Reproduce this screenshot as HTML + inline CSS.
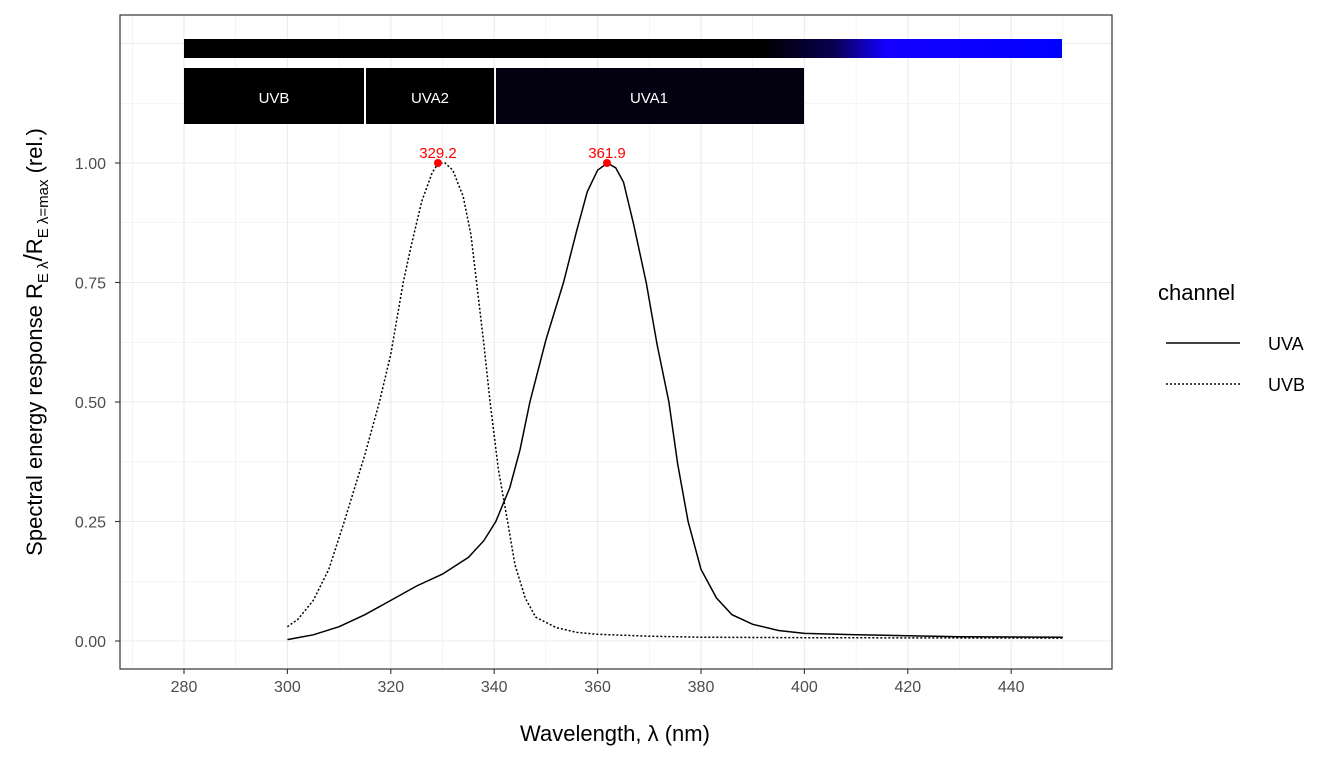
<!DOCTYPE html>
<html><head><meta charset="utf-8"><style>
html,body{margin:0;padding:0;background:#fff;}
svg text{font-family:"Liberation Sans",sans-serif;}
</style></head><body>
<svg id="s" width="1344" height="768" viewBox="0 0 1344 768" xmlns="http://www.w3.org/2000/svg">
<defs>
<linearGradient id="g" x1="184" x2="1062" y1="0" y2="0" gradientUnits="userSpaceOnUse">
<stop offset="0" stop-color="#000"/>
<stop offset="0.66" stop-color="#000"/>
<stop offset="0.74" stop-color="#0a0050"/>
<stop offset="0.8" stop-color="#1400ff"/>
<stop offset="1" stop-color="#0000ff"/>
</linearGradient>
</defs>
<rect x="120" y="15" width="992" height="654" fill="#fff"/>
<g id="grid"></g>
<rect x="184" y="39" width="878" height="19" fill="url(#g)"/>
<rect x="184" y="68" width="180" height="56" fill="#000"/>
<rect x="366" y="68" width="128" height="56" fill="#000"/>
<rect x="496" y="68" width="308" height="56" fill="#03000f"/>
<text x="274" y="103" fill="#fff" font-size="15" text-anchor="middle">UVB</text>
<text x="430" y="103" fill="#fff" font-size="15" text-anchor="middle">UVA2</text>
<text x="649" y="103" fill="#fff" font-size="15" text-anchor="middle">UVA1</text>
<path id="uvb" fill="none" stroke="#000" stroke-width="1.5" stroke-dasharray="2,2"/>
<path id="uva" fill="none" stroke="#000" stroke-width="1.5"/>
<circle cx="438" cy="163" r="4" fill="red"/>
<circle cx="607" cy="163" r="4" fill="red"/>
<text x="438" y="158" fill="red" font-size="15" text-anchor="middle">329.2</text>
<text x="607" y="158" fill="red" font-size="15" text-anchor="middle">361.9</text>
<rect x="120" y="15" width="992" height="654" fill="none" stroke="#333" stroke-width="1.2"/>
<g id="ticks" font-size="16" fill="#4d4d4d"></g>
<text x="615" y="741" font-size="22" text-anchor="middle" fill="#000">Wavelength, λ (nm)</text>
<text transform="translate(42,342) rotate(-90)" font-size="22" text-anchor="middle" fill="#000">Spectral  energy  response  R<tspan font-size="15" dy="6">E λ</tspan><tspan dy="-6" font-size="26">/</tspan>R<tspan font-size="15" dy="6">E λ=max</tspan><tspan dy="-6">  (rel.)</tspan></text>
<text x="1158" y="300" font-size="22" fill="#000">channel</text>
<line x1="1166" x2="1240" y1="343" y2="343" stroke="#000" stroke-width="1.5"/>
<line x1="1166" x2="1240" y1="384" y2="384" stroke="#000" stroke-width="1.5" stroke-dasharray="2,2"/>
<text x="1268" y="350" font-size="18" fill="#000">UVA</text>
<text x="1268" y="391" font-size="18" fill="#000">UVB</text>
</svg>
<script>
var X=function(n){return 184+(n-280)*5.17;},Y=function(v){return 641-v*478;};
var NS="http://www.w3.org/2000/svg",g=document.getElementById('grid'),t=document.getElementById('ticks');
function el(p,tag,a,txt){var e=document.createElementNS(NS,tag);for(var k in a)e.setAttribute(k,a[k]);if(txt)e.textContent=txt;p.appendChild(e);}
for(var n=260;n<=470;n+=10){var x=X(n);if(x<121||x>1111)continue;el(g,'line',{x1:x,x2:x,y1:15,y2:669,stroke:'#ebebeb','stroke-width':n%20==0?1.1:0.55});}
for(var v=-0.125;v<=1.4;v+=0.125){var y=Y(v);if(y<16||y>668)continue;var maj=Math.abs(v*4-Math.round(v*4))<1e-6;el(g,'line',{x1:120,x2:1112,y1:y,y2:y,stroke:'#ebebeb','stroke-width':maj?1.1:0.55});}
for(var n=280;n<=440;n+=20){var x=X(n);el(t,'line',{x1:x,x2:x,y1:669,y2:674,stroke:'#333','stroke-width':1.1});el(t,'text',{x:x,y:692,'text-anchor':'middle'},String(n));}
[0,0.25,0.5,0.75,1].forEach(function(v){var y=Y(v);el(t,'line',{x1:115,x2:120,y1:y,y2:y,stroke:'#333','stroke-width':1.1});el(t,'text',{x:106,y:y+6,'text-anchor':'end'},v.toFixed(2));});
var uvb=[[300,0.03],[302,0.045],[305,0.085],[308,0.15],[311,0.25],[313,0.32],[315,0.39],[317.8,0.5],[320,0.6],[322.4,0.75],[324,0.83],[326,0.92],[328,0.98],[329.2,1.0],[330.5,1.0],[332,0.985],[334,0.93],[335.5,0.85],[336.6,0.75],[338,0.62],[339.2,0.5],[340.8,0.36],[342.6,0.25],[344,0.16],[346,0.09],[348,0.05],[352,0.028],[356,0.018],[360,0.014],[370,0.01],[380,0.008],[400,0.007],[450,0.006]];
var uva=[[300,0.003],[305,0.013],[310,0.03],[315,0.055],[320,0.085],[325,0.115],[330,0.14],[335,0.175],[338,0.21],[340.3,0.25],[343,0.32],[345,0.4],[346.9,0.5],[350,0.63],[353.4,0.75],[356,0.86],[358,0.94],[360,0.985],[361.9,1.0],[363.5,0.99],[365,0.96],[367,0.87],[369.4,0.75],[371.5,0.62],[373.8,0.5],[375.5,0.37],[377.5,0.25],[380,0.15],[383,0.09],[386,0.055],[390,0.035],[395,0.022],[400,0.016],[410,0.013],[420,0.011],[430,0.009],[450,0.008]];
function path(d){return d.map(function(p,i){return (i?'L':'M')+X(p[0]).toFixed(1)+','+Y(p[1]).toFixed(1);}).join('');}
document.getElementById('uvb').setAttribute('d',path(uvb));
document.getElementById('uva').setAttribute('d',path(uva));
</script>
</body></html>
